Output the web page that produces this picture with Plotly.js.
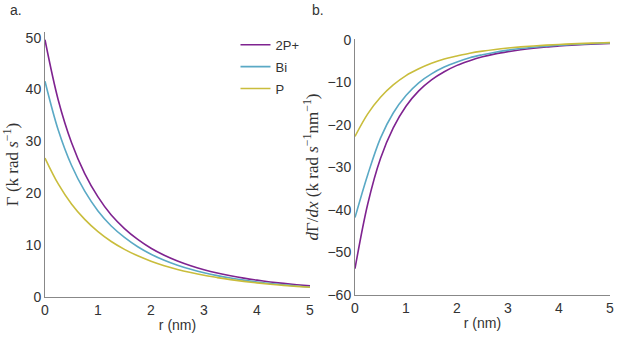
<!DOCTYPE html>
<html>
<head>
<meta charset="utf-8">
<script src="https://cdn.plot.ly/plotly-3.0.1.min.js"></script>
<style>
  html, body { margin: 0; padding: 0; background: #fff; }
  #chart { width: 623px; height: 350px; }
</style>
</head>
<body>
<div id="chart"></div>
<script>
// r values (nm)
const r = [0, 0.25, 0.5, 0.75, 1, 1.25, 1.5, 1.75, 2, 2.25, 2.5, 2.75, 3,
           3.25, 3.5, 3.75, 4, 4.25, 4.5, 4.75, 5];

// panel a: rate
const rate2P = [49.6, 38.0, 29.8, 23.8, 19.3, 15.8, 13.2, 11.1, 9.4, 8.05, 6.94,
                6.03, 5.27, 4.63, 4.10, 3.64, 3.25, 2.91, 2.62, 2.36, 2.14];
const rateBi = [41.6, 32.2, 25.4, 20.4, 16.6, 13.7, 11.5, 9.7, 8.26, 7.09, 6.13,
                5.34, 4.68, 4.12, 3.65, 3.25, 2.90, 2.61, 2.35, 2.12, 1.93];
const rateP  = [26.8, 21.8, 17.95, 14.97, 12.6, 10.7, 9.19, 7.94, 6.91, 6.04, 5.32,
                4.71, 4.18, 3.74, 3.35, 3.02, 2.72, 2.47, 2.24, 2.05, 1.87];

// panel b: derivative
const der2P = [-53.8, -38.6, -27.9, -20.7, -15.6, -12.0, -9.4, -7.5, -6.0, -4.9, -4.0,
               -3.3, -2.77, -2.33, -1.98, -1.69, -1.46, -1.26, -1.09, -0.95, -0.83];
const derBi = [-41.8, -31.7, -23.1, -17.2, -13.1, -10.1, -8.0, -6.4, -5.2, -4.2, -3.5,
               -2.9, -2.42, -2.04, -1.74, -1.49, -1.28, -1.11, -0.97, -0.84, -0.74];
const derP  = [-22.7, -17.4, -13.5, -10.6, -8.4, -6.8, -5.5, -4.5, -3.8, -3.15, -2.66,
               -2.26, -1.93, -1.66, -1.44, -1.25, -1.09, -0.96, -0.84, -0.75, -0.66];

const names = ["2P+", "Bi", "P"];
const colors = ["#7f2390", "#5aa9c5", "#c9bd3c"];

const rates = [rate2P, rateBi, rateP];
const ders = [der2P, derBi, derP];

const data = [];
for (let i = 0; i < 3; i++) {
    data.push({
        x: r, y: rates[i], name: names[i], mode: "lines",
        line: { color: colors[i], width: 1.6, shape: "spline" },
        xaxis: "x", yaxis: "y", legendgroup: names[i]
    });
}
for (let i = 0; i < 3; i++) {
    data.push({
        x: r, y: ders[i], name: names[i], mode: "lines",
        line: { color: colors[i], width: 1.6, shape: "spline" },
        xaxis: "x2", yaxis: "y2", showlegend: false
    });
}

const tickFont = { family: "Liberation Sans, Arial, sans-serif", size: 14, color: "#333" };
const serif = "Liberation Serif, DejaVu Serif, serif";
const axisCommon = {
    showgrid: false, zeroline: false, showline: true,
    linecolor: "#888", linewidth: 1, ticks: "", tickfont: tickFont
};

const layout = {
    width: 623, height: 350,
    margin: { l: 0, r: 0, t: 0, b: 0 },
    paper_bgcolor: "#fff", plot_bgcolor: "#fff",
    font: { family: "Liberation Sans, Arial, sans-serif", size: 13, color: "#333" },
    showlegend: true,
    legend: {
        x: 0.378, y: 0.915, xanchor: "left", yanchor: "top",
        font: { size: 13, color: "#333" }, tracegroupgap: 2,
        bgcolor: "rgba(0,0,0,0)"
    },
    xaxis: Object.assign({}, axisCommon, {
        domain: [0.0722, 0.4976], range: [0, 5], dtick: 1,
        title: { text: "r (nm)", font: { size: 14, color: "#333" }, standoff: 3 }
    }),
    yaxis: Object.assign({}, axisCommon, {
        domain: [0.1514, 0.9086], range: [0, 51.1], dtick: 10,
        title: { text: "Γ (k rad <i>s</i><sup>−1</sup>)",
                 font: { family: serif, size: 17, color: "#333" }, standoff: 4 }
    }),
    xaxis2: Object.assign({}, axisCommon, {
        domain: [0.5698, 0.9791], range: [0, 5], dtick: 1, anchor: "y2",
        title: { text: "r (nm)", font: { size: 14, color: "#333" }, standoff: 3 }
    }),
    yaxis2: Object.assign({}, axisCommon, {
        domain: [0.1571, 0.8886], range: [-60, 0.2], dtick: 10, anchor: "x2",
        title: { text: "<i>d</i>Γ/<i>dx</i> (k rad <i>s</i><sup>−1</sup>nm<sup>−1</sup>)",
                 font: { family: serif, size: 17, color: "#333" }, standoff: 4 }
    }),
    annotations: [
        { text: "a.", xref: "paper", yref: "paper", x: 8 / 623, y: 1 - 10 / 350,
          xanchor: "left", yanchor: "middle", showarrow: false, font: { size: 14, color: "#333" } },
        { text: "b.", xref: "paper", yref: "paper", x: 310 / 623, y: 1 - 10 / 350,
          xanchor: "left", yanchor: "middle", showarrow: false, font: { size: 14, color: "#333" } }
    ]
};

Plotly.newPlot("chart", data, layout, { displayModeBar: false, staticPlot: true });
</script>
</body>
</html>
